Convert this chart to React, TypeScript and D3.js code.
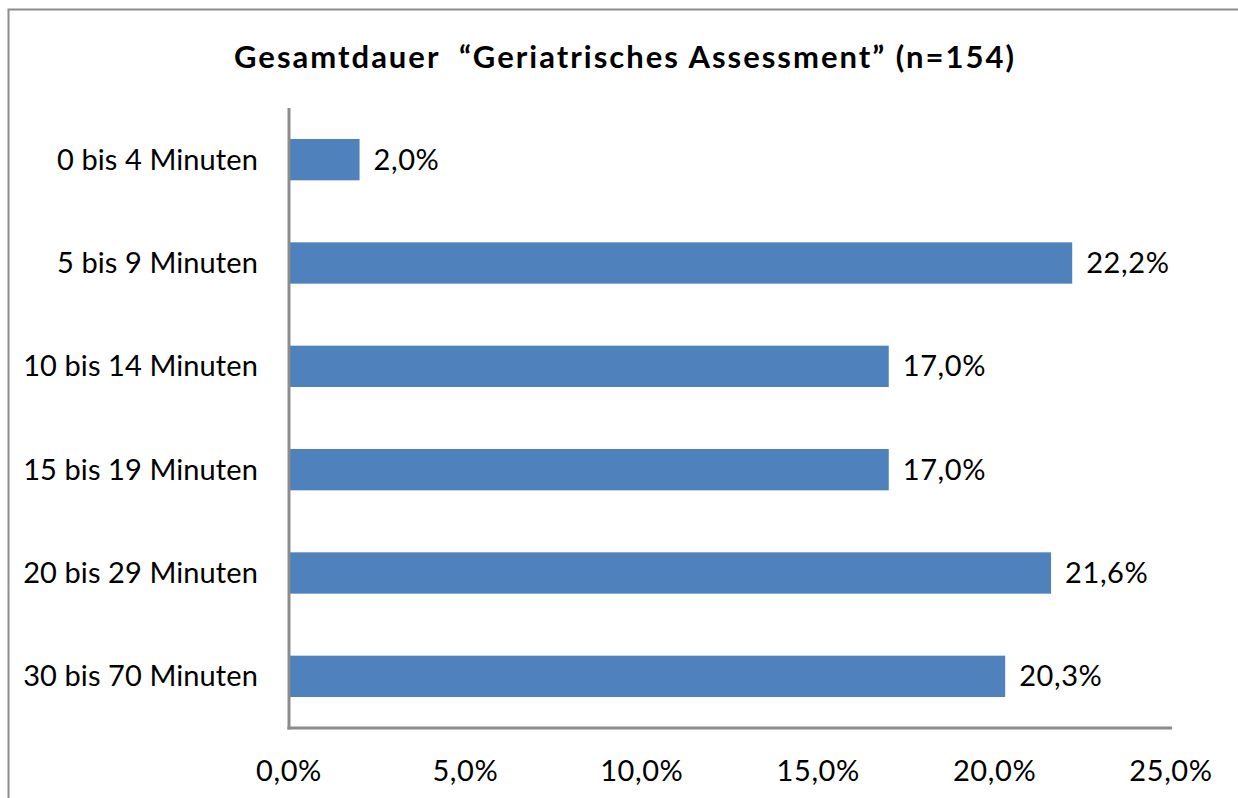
import React, { useEffect, useRef } from "react";
import * as d3 from "d3";

const categories = [
  "0 bis 4 Minuten",
  "5 bis 9 Minuten",
  "10 bis 14 Minuten",
  "15 bis 19 Minuten",
  "20 bis 29 Minuten",
  "30 bis 70 Minuten",
];
const values = [2.0, 22.2, 17.0, 17.0, 21.6, 20.3];
const ticks = [0, 5, 10, 15, 20, 25];
const title = "Gesamtdauer  \u201CGeriatrisches Assessment\u201D (n=154)";

const fmt = (v: number) => v.toFixed(1).replace(".", ",") + "%";

function App() {
  const ref = useRef<SVGSVGElement>(null);

  useEffect(() => {
    const svg = d3.select(ref.current);
    svg.selectAll("*").remove();
    const font = "Lato, 'Open Sans', sans-serif";
    const left = 289;
    const right = 1171;
    const top = 108;
    const bottom = 728;
    const fs = 29;

    // frame
    svg
      .append("rect")
      .attr("x", 8.5)
      .attr("y", 9.5)
      .attr("width", 1300)
      .attr("height", 900)
      .attr("fill", "white")
      .attr("stroke", "#8c8c8c")
      .attr("stroke-width", 2);

    const x = d3.scaleLinear().domain([0, 25]).range([left, right]);
    const y = d3
      .scaleBand()
      .domain(categories)
      .range([top, bottom])
      .paddingInner(0.6)
      .paddingOuter(0.3);

    svg
      .append("text")
      .attr("x", 625)
      .attr("y", 68)
      .attr("text-anchor", "middle")
      .attr("font-family", font)
      .attr("font-weight", "bold")
      .attr("font-size", 31)
      .attr("letter-spacing", 2)
      .style("white-space", "pre")
      .text(title);

    const data = categories.map((c, i) => ({ c, v: values[i] }));

    svg
      .selectAll("rect.bar")
      .data(data)
      .enter()
      .append("rect")
      .attr("class", "bar")
      .attr("x", x(0))
      .attr("y", (d) => y(d.c)!)
      .attr("width", (d) => x(d.v) - x(0))
      .attr("height", y.bandwidth())
      .attr("fill", "#4f81bd");

    svg
      .selectAll("text.val")
      .data(data)
      .enter()
      .append("text")
      .attr("class", "val")
      .attr("x", (d) => x(d.v) + 14)
      .attr("y", (d) => y(d.c)! + y.bandwidth() / 2)
      .attr("dy", "0.35em")
      .attr("font-family", font)
      .attr("font-size", fs)
      .attr("letter-spacing", 0.6)
      .text((d) => fmt(d.v));

    svg
      .selectAll("text.cat")
      .data(categories)
      .enter()
      .append("text")
      .attr("class", "cat")
      .attr("x", 258)
      .attr("y", (d) => y(d)! + y.bandwidth() / 2)
      .attr("dy", "0.35em")
      .attr("text-anchor", "end")
      .attr("font-family", font)
      .attr("font-size", fs)
      .attr("letter-spacing", 0.1)
      .text((d) => d);

    svg
      .selectAll("text.tick")
      .data(ticks)
      .enter()
      .append("text")
      .attr("class", "tick")
      .attr("x", (d) => x(d))
      .attr("y", 781)
      .attr("text-anchor", "middle")
      .attr("font-family", font)
      .attr("font-size", fs)
      .attr("letter-spacing", 0.6)
      .text((d) => fmt(d));

    // axes lines
    svg
      .append("line")
      .attr("x1", left)
      .attr("x2", left)
      .attr("y1", top)
      .attr("y2", bottom + 1.5)
      .attr("stroke", "#8c8c8c")
      .attr("stroke-width", 3);
    svg
      .append("line")
      .attr("x1", left - 1.5)
      .attr("x2", right + 1)
      .attr("y1", bottom)
      .attr("y2", bottom)
      .attr("stroke", "#8c8c8c")
      .attr("stroke-width", 3);
  }, []);

  return (
    <svg
      ref={ref}
      width={1238}
      height={798}
      style={{ position: "absolute", left: 0, top: 0, display: "block" }}
    />
  );
}

export default App;
